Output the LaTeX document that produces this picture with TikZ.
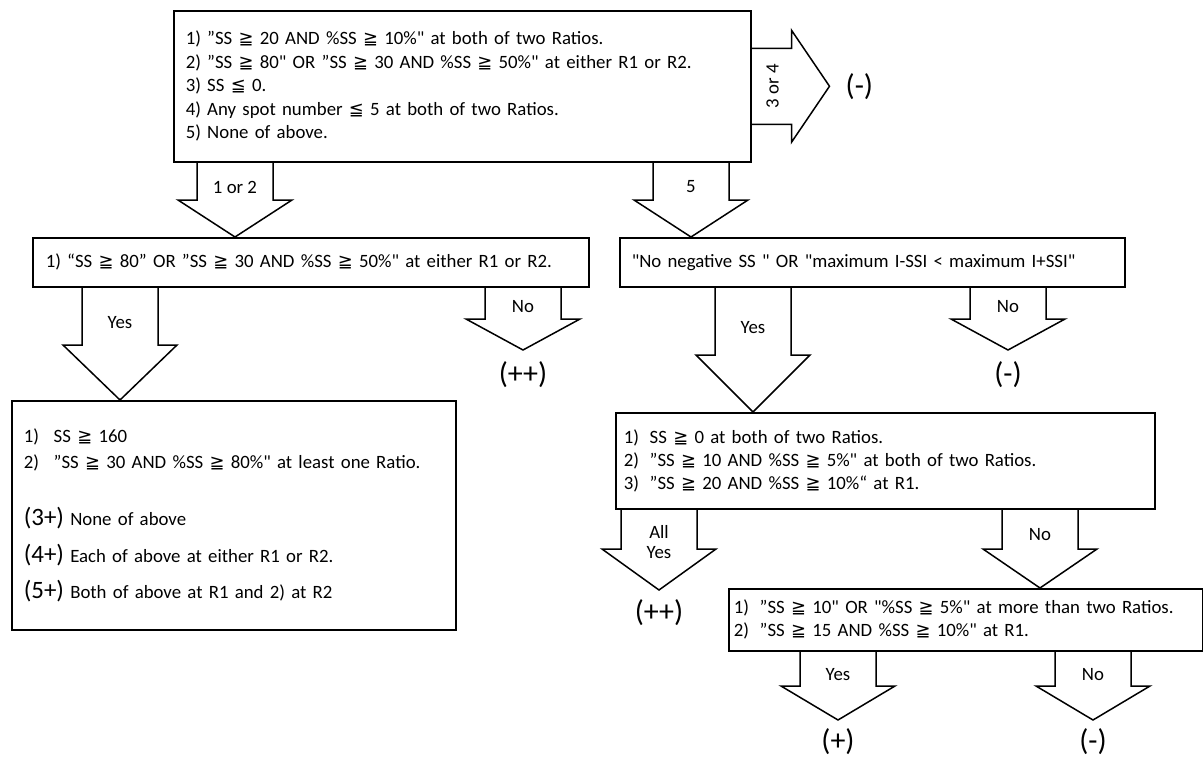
\documentclass[tikz,border=0pt]{standalone}
\usepackage{fontspec}
\setmainfont{Carlito}[Ligatures=TeXOff]
\newfontfamily\symfont{DejaVu Sans}[Scale=0.95]
\usetikzlibrary{calc}

\newcommand{\GEQ}{{\symfont ≧}}
\newcommand{\LEQ}{{\symfont ≦}}
\newcommand{\itm}[2][26pt]{\makebox[#1][l]{#2}}
\newcommand{\grd}[1]{{\fontsize{25}{25}\selectfont #1}}
% block arrow pointing down: from, tip, head depth
\newcommand{\blockdown}[3]{%
  \draw[blockarr] ($(#1)+(-38,0)$) -- ($(#2)+(-38,-#3)$) -- ($(#2)+(-57,-#3)$)
    -- (#2) -- ($(#2)+(57,-#3)$) -- ($(#2)+(38,-#3)$) -- ($(#1)+(38,0)$);}

\begin{document}
\begin{tikzpicture}[
    x=1pt,y=-1pt,
    every node/.style={font=\fontsize{18.8}{23}\selectfont},
    box/.style={draw,line width=1.5pt,align=left,anchor=north west,inner ysep=0pt},
    blockarr/.style={draw,line width=1.5pt,line join=miter},
    lbl/.style={align=center,inner sep=0pt},
    outcome/.style={inner sep=0pt,font=\fontsize{30}{32}\selectfont}
]
\useasboundingbox (0,0) rectangle (1203,758);
\fill[white] (0,0) rectangle (1203,758);

% first decision
\node[box,inner xsep=12pt,text width=553pt,minimum height=151pt,
  font=\fontsize{18.8}{23.5}\selectfont] (top) at (173,10) {%
1) ”SS \GEQ{} 20 AND \%SS \GEQ{} 10\%" at both of two Ratios.\\
2) ”SS \GEQ{} 80" OR ”SS \GEQ{} 30 AND \%SS \GEQ{} 50\%" at either R1 or R2.\\
3) SS \LEQ{} 0.\\
4) Any spot number \LEQ{} 5 at both of two Ratios.\\
5) None of above.};

% 3 or 4 -> (-)
\draw[blockarr] ($(top.east)+(0,-38)$) -- ++(40,0) -- ++(0,-18) -- ($(top.east)+(78,0)$)
  -- ++(-38,56) -- ++(0,-18) -- ($(top.east)+(0,38)$);
\node[lbl,rotate=90] (l34) at ($(top.east)+(21,0)$) {3 or 4};
\node[outcome,anchor=west] (r34) at ($(top.east)+(94,0)$) {(-)};

% second row
\node[box,inner xsep=13pt,text width=530pt,minimum height=49pt] (q1) at (32,237) {%
1) “SS \GEQ{} 80” OR ”SS \GEQ{} 30 AND \%SS \GEQ{} 50\%" at either R1 or R2.};
\node[box,inner xsep=12pt,text width=481pt,minimum height=49pt] (q2) at (619,237) {%
"No negative SS " OR "maximum I-SSI < maximum I+SSI"};

\node[lbl] (l12) at (235,187) {1 or 2};
\node[lbl] (l5) at (691,187) {5};
\blockdown{top.south -| l12}{q1.north -| l12}{37}
\blockdown{top.south -| l5}{q2.north -| l5}{37}

% left branch
\node[box,inner xsep=12pt,text width=420pt,minimum height=229pt,
  font=\fontsize{18.8}{26}\selectfont] (grade) at (11,400) {%
\itm[30pt]{1)}SS \GEQ{} 160\\
\itm[30pt]{2)}”SS \GEQ{} 30 AND \%SS \GEQ{} 80\%" at least one Ratio.\\[31pt]
\grd{(3+)} None of above\\[11pt]
\grd{(4+)} Each of above at either R1 or R2.\\[10pt]
\grd{(5+)} Both of above at R1 and 2) at R2};

\node[lbl] (lyes1) at (120,323) {Yes};
\blockdown{q1.south -| lyes1}{grade.north -| lyes1}{55}

\node[lbl] (lno1) at (523,307) {No};
\coordinate (tno1) at (523,350);
\node[outcome] (pp1) at (523,375) {(++)};
\blockdown{q1.south -| lno1}{tno1}{31}

% right branch
\node[box,inner xsep=8pt,text width=523pt,minimum height=96pt] (cond) at (615,412) {%
\itm{1)}SS \GEQ{} 0 at both of two Ratios.\\
\itm{2)}”SS \GEQ{} 10 AND \%SS \GEQ{} 5\%" at both of two Ratios.\\
\itm{3)}”SS \GEQ{} 20 AND \%SS \GEQ{} 10\%“ at R1.};

\node[lbl] (lyes2) at (753,328) {Yes};
\blockdown{q2.south -| lyes2}{cond.north -| lyes2}{57}

\node[lbl] (lno2) at (1008,307) {No};
\coordinate (tno2) at (1008,350);
\node[outcome] (m1) at (1008,375) {(-)};
\blockdown{q2.south -| lno2}{tno2}{31}

\node[box,inner xsep=5pt,text width=464pt,minimum height=62pt] (cond2) at (728,588) {%
\itm{1)}”SS \GEQ{} 10" OR "\%SS \GEQ{} 5\%" at more than two Ratios.\\
\itm{2)}”SS \GEQ{} 15 AND \%SS \GEQ{} 10\%" at R1.};

\node[lbl,font=\fontsize{18.8}{20}\selectfont] (lall) at (659,542) {All\\Yes};
\coordinate (tall) at (659,590);
\node[outcome] (pp2) at (659,613) {(++)};
\blockdown{cond.south -| lall}{tall}{41}

\node[lbl] (lno3) at (1040,535) {No};
\blockdown{cond.south -| lno3}{cond2.north -| lno3}{39}

% last row
\node[lbl] (lyes3) at (838,675) {Yes};
\coordinate (tyes3) at (838,720);
\node[outcome] (p1) at (838,742) {(+)};
\blockdown{cond2.south -| lyes3}{tyes3}{34}

\node[lbl] (lno4) at (1093,675) {No};
\coordinate (tno4) at (1093,720);
\node[outcome] (m2) at (1093,742) {(-)};
\blockdown{cond2.south -| lno4}{tno4}{34}
\end{tikzpicture}
\end{document}
